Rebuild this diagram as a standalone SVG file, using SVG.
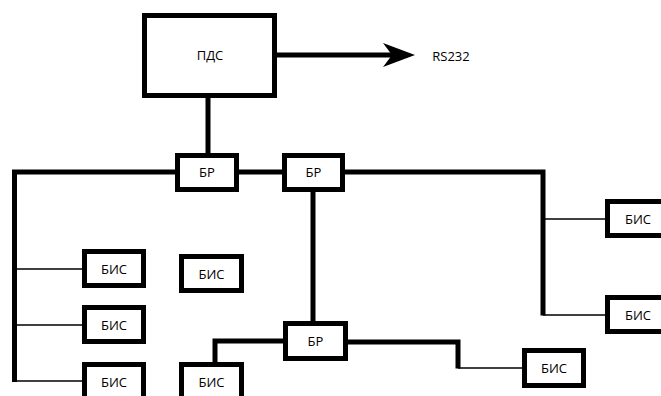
<svg xmlns="http://www.w3.org/2000/svg" width="661" height="396" viewBox="0 0 661 396">
<style>
.box{fill:#fff;stroke:#000;stroke-width:5}
.thick{fill:none;stroke:#000;stroke-width:5;stroke-linejoin:miter}
.thin{fill:none;stroke:#000;stroke-width:1.6}
text{font-family:"Open Sans","Noto Sans",sans-serif;font-size:13px;fill:#000;text-anchor:middle}
</style>
<rect width="661" height="396" fill="#fff"/>
<g id="connectors">
<line class="thick" x1="208" y1="96" x2="208" y2="155"/>
<line class="thick" x1="275" y1="55" x2="393" y2="55"/>
<path d="M415,55 L383,43 L392,55 L383,67 Z" fill="#000"/>
<polyline class="thick" points="177,172 14.5,172 14.5,382"/>
<line class="thin" x1="14.5" y1="269" x2="84" y2="269"/>
<line class="thin" x1="14.5" y1="325" x2="84" y2="325"/>
<line class="thin" x1="14.5" y1="381" x2="84" y2="381"/>
<line class="thick" x1="237" y1="172" x2="284" y2="172"/>
<polyline class="thick" points="343,172 543,172 543,315.5"/>
<line class="thin" x1="543" y1="219" x2="607" y2="219"/>
<line class="thin" x1="543" y1="315" x2="607" y2="315"/>
<line class="thick" x1="313" y1="190" x2="313" y2="323"/>
<polyline class="thick" points="285,341 215,341 215,364"/>
<polyline class="thick" points="346,342 458,342 458,368.5"/>
<line class="thin" x1="458" y1="368" x2="524" y2="368"/>
</g>
<g id="pds"><rect class="box" x="144.5" y="15.5" width="130" height="80"/><text x="210" y="60">ПДС</text></g>
<g id="rs232"><text x="451" y="61">RS232</text></g>
<g id="br1"><rect class="box" x="177.5" y="155.5" width="59" height="34"/><text x="207" y="177">БР</text></g>
<g id="br2"><rect class="box" x="284.5" y="155.5" width="58" height="34"/><text x="313.5" y="177">БР</text></g>
<g id="br3"><rect class="box" x="285.5" y="323.5" width="60" height="35"/><text x="315.5" y="346">БР</text></g>
<g id="bis-l1"><rect class="box" x="84.5" y="251.5" width="59" height="34"/><text x="114" y="273.5">БИС</text></g>
<g id="bis-l2"><rect class="box" x="84.5" y="307.5" width="59" height="34"/><text x="114" y="329.5">БИС</text></g>
<g id="bis-l3"><rect class="box" x="84.5" y="364.5" width="59" height="34"/><text x="114" y="386.5">БИС</text></g>
<g id="bis-m1"><rect class="box" x="181.5" y="256.5" width="60" height="34"/><text x="211.5" y="278.5">БИС</text></g>
<g id="bis-m3"><rect class="box" x="181.5" y="364.5" width="60" height="34"/><text x="211.5" y="386.5">БИС</text></g>
<g id="bis-r1"><rect class="box" x="607.5" y="201.5" width="60" height="34"/><text x="638" y="223.5">БИС</text></g>
<g id="bis-r2"><rect class="box" x="607.5" y="297.5" width="60" height="34"/><text x="638" y="319.5">БИС</text></g>
<g id="bis-rb"><rect class="box" x="524.5" y="350.5" width="59" height="35"/><text x="554" y="373">БИС</text></g>
</svg>
